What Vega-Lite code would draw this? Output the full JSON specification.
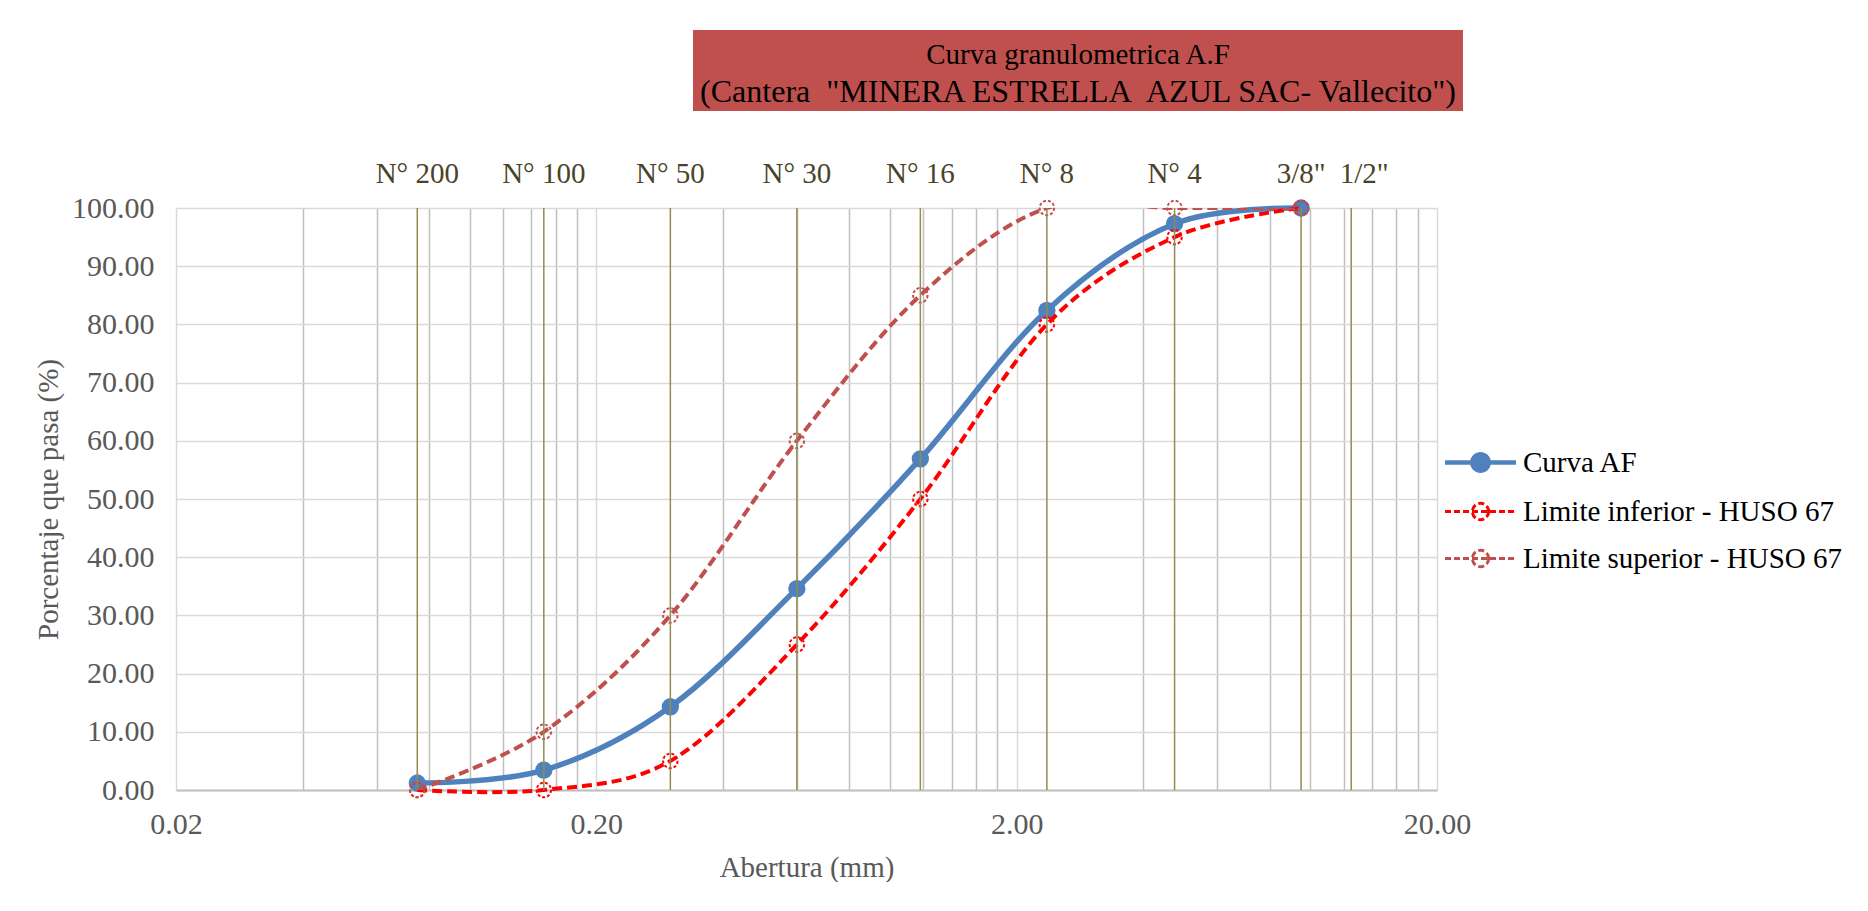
{
  "$schema": "https://vega.github.io/schema/vega-lite/v6.json",
  "padding": {"left": 34, "top": 27, "right": 0, "bottom": 0},
  "background": "white",
  "config": {"view": {"stroke": null}, "font": "Liberation Serif"},
  "datasets": {
    "curves": [
      {"series": "Curva AF", "mm": 0.075, "pct": 1.2},
      {"series": "Curva AF", "mm": 0.15, "pct": 3.4},
      {"series": "Curva AF", "mm": 0.3, "pct": 14.3},
      {"series": "Curva AF", "mm": 0.6, "pct": 34.6},
      {"series": "Curva AF", "mm": 1.18, "pct": 56.9},
      {"series": "Curva AF", "mm": 2.36, "pct": 82.4},
      {"series": "Curva AF", "mm": 4.75, "pct": 97.3},
      {"series": "Curva AF", "mm": 9.5, "pct": 100},
      {"series": "Limite inferior - HUSO 67", "mm": 0.075, "pct": 0},
      {"series": "Limite inferior - HUSO 67", "mm": 0.15, "pct": 0},
      {"series": "Limite inferior - HUSO 67", "mm": 0.3, "pct": 5},
      {"series": "Limite inferior - HUSO 67", "mm": 0.6, "pct": 25},
      {"series": "Limite inferior - HUSO 67", "mm": 1.18, "pct": 50},
      {"series": "Limite inferior - HUSO 67", "mm": 2.36, "pct": 80},
      {"series": "Limite inferior - HUSO 67", "mm": 4.75, "pct": 95},
      {"series": "Limite inferior - HUSO 67", "mm": 9.5, "pct": 100},
      {"series": "Limite superior - HUSO 67", "mm": 0.075, "pct": 0},
      {"series": "Limite superior - HUSO 67", "mm": 0.15, "pct": 10},
      {"series": "Limite superior - HUSO 67", "mm": 0.3, "pct": 30},
      {"series": "Limite superior - HUSO 67", "mm": 0.6, "pct": 60},
      {"series": "Limite superior - HUSO 67", "mm": 1.18, "pct": 85},
      {"series": "Limite superior - HUSO 67", "mm": 2.36, "pct": 100},
      {"series": "Limite superior - HUSO 67", "mm": 4.75, "pct": 100},
      {"series": "Limite superior - HUSO 67", "mm": 9.5, "pct": 100}
    ],
    "sieves": [
      {"label": "N° 200", "mm": 0.075},
      {"label": "N° 100", "mm": 0.15},
      {"label": "N° 50", "mm": 0.3},
      {"label": "N° 30", "mm": 0.6},
      {"label": "N° 16", "mm": 1.18},
      {"label": "N° 8", "mm": 2.36},
      {"label": "N° 4", "mm": 4.75},
      {"label": "3/8\"", "mm": 9.5},
      {"label": "1/2\"", "mm": 12.5}
    ],
    "heading": [
      {"line": 1, "text": "Curva granulometrica A.F"},
      {"line": 2, "text": "(Cantera\u00a0 \"MINERA ESTRELLA\u00a0 AZUL SAC- Vallecito\")"}
    ]
  },
  "spacing": 49,
  "vconcat": [
    {
      "spacing": 513,
      "hconcat": [
        {
          "width": 1, "height": 1,
          "data": {"name": "heading"},
          "mark": {"type": "point", "opacity": 0}
        },
        {
          "width": 770, "height": 81,
          "view": {"fill": "#c0504d", "stroke": null},
          "data": {"name": "heading"},
          "layer": [
            {
              "transform": [{"filter": "datum.line === 1"}],
              "mark": {"type": "text", "font": "Liberation Serif", "fontSize": 29, "color": "#000000", "baseline": "middle", "align": "center", "dy": -16},
              "encoding": {"text": {"field": "text", "type": "nominal"}}
            },
            {
              "transform": [{"filter": "datum.line === 2"}],
              "mark": {"type": "text", "font": "Liberation Serif", "fontSize": 32, "color": "#000000", "baseline": "middle", "align": "center", "dy": 21},
              "encoding": {"text": {"field": "text", "type": "nominal"}}
            }
          ]
        }
      ]
    },
    {
      "width": 1261,
      "height": 582,
      "encoding": {
        "x": {
          "field": "mm", "type": "quantitative",
          "scale": {"type": "log", "domain": [0.02, 20], "nice": false},
          "axis": {
            "title": "Abertura (mm)",
            "values": [0.02, 0.04, 0.06, 0.08, 0.1, 0.12, 0.14, 0.16, 0.18, 0.2, 0.4, 0.6, 0.8, 1, 1.2, 1.4, 1.6, 1.8, 2, 4, 6, 8, 10, 12, 14, 16, 18, 20],
            "labelExpr": "indexof([0.02, 0.2, 2, 20], datum.value) >= 0 ? format(datum.value, '.2f') : ''",
            "grid": true,
            "gridColor": {"condition": {"test": "indexof([0.02, 0.2, 2, 20], datum.value) >= 0", "value": "#d9d9d9"}, "value": "#bfbfbf"},
            "gridWidth": 1.5,
            "ticks": false,
            "domainColor": "#bfbfbf",
            "domainWidth": 2,
            "labelFont": "Liberation Serif", "labelFontSize": 30, "labelColor": "#595959", "labelPadding": 19,
            "labelOverlap": false, "labelFlush": false, "labelBound": false,
            "titleFont": "Liberation Serif", "titleFontSize": 29, "titleFontWeight": "normal", "titleColor": "#595959", "titlePadding": 14
          }
        }
      },
      "layer": [
        {
          "data": {"name": "curves"},
          "transform": [{"filter": "datum.series === 'Curva AF'"}],
          "mark": {"type": "line", "interpolate": "cardinal", "strokeWidth": 5.5},
          "encoding": {
            "y": {
              "field": "pct", "type": "quantitative",
              "scale": {"domain": [0, 100], "nice": false},
              "axis": {
                "title": "Porcentaje que pasa (%)",
                "values": [0, 10, 20, 30, 40, 50, 60, 70, 80, 90, 100],
                "format": ".2f",
                "grid": true, "gridColor": "#d9d9d9", "gridWidth": 1.5,
                "domain": false, "ticks": false,
                "labelFont": "Liberation Serif", "labelFontSize": 30, "labelColor": "#595959", "labelPadding": 22,
                "titleFont": "Liberation Serif", "titleFontSize": 29, "titleFontWeight": "normal", "titleColor": "#595959", "titlePadding": 8
              }
            },
            "color": {
              "field": "series", "type": "nominal",
              "scale": {"domain": ["Curva AF", "Limite inferior - HUSO 67", "Limite superior - HUSO 67"], "range": ["#4f81bd", "#ff0000", "#c0504d"]},
              "legend": {
                "title": null, "orient": "none", "legendX": 1290, "legendY": 418, "direction": "vertical", "padding": 0,
                "symbolType": "M-1,0H1M0.23,0A0.23,0.23,0,1,1,-0.23,0A0.23,0.23,0,1,1,0.23,0Z",
                "symbolSize": 5041,
                "labelFont": "Liberation Serif", "labelFontSize": 29, "labelColor": "#000000", "labelOffset": 28, "rowPadding": 17, "labelLimit": 0,
                "encode": {"symbols": {"update": {
                  "fill": {"signal": "datum.value === 'Curva AF' ? '#4f81bd' : 'transparent'"},
                  "fillOpacity": {"signal": "datum.value === 'Curva AF' ? 1 : 0"},
                  "strokeDash": {"signal": "datum.value === 'Curva AF' ? [1, 0] : [6, 3]"},
                  "strokeWidth": {"signal": "datum.value === 'Curva AF' ? 4.5 : 3"}
                }}}
              }
            }
          }
        },
        {
          "data": {"name": "curves"},
          "transform": [{"filter": "datum.series === 'Curva AF'"}],
          "mark": {"type": "circle", "size": 300, "opacity": 1},
          "encoding": {
            "y": {"field": "pct", "type": "quantitative", "scale": {"domain": [0, 100], "nice": false}},
            "color": {"field": "series", "type": "nominal", "legend": null}
          }
        },
        {
          "data": {"name": "curves"},
          "transform": [{"filter": "datum.series === 'Limite inferior - HUSO 67'"}],
          "mark": {"type": "line", "interpolate": "cardinal", "strokeWidth": 4, "strokeDash": [10, 5]},
          "encoding": {
            "y": {"field": "pct", "type": "quantitative", "scale": {"domain": [0, 100], "nice": false}},
            "color": {"field": "series", "type": "nominal", "legend": null}
          }
        },
        {
          "data": {"name": "curves"},
          "transform": [{"filter": "datum.series === 'Limite superior - HUSO 67'"}],
          "mark": {"type": "line", "interpolate": "cardinal", "strokeWidth": 4, "strokeDash": [10, 5], "clip": true},
          "encoding": {
            "y": {"field": "pct", "type": "quantitative", "scale": {"domain": [0, 100], "nice": false}},
            "color": {"field": "series", "type": "nominal", "legend": null}
          }
        },
        {
          "data": {"name": "curves"},
          "transform": [{"filter": "datum.series !== 'Curva AF'"}],
          "mark": {"type": "point", "shape": "circle", "filled": false, "size": 210, "strokeWidth": 2, "strokeDash": [3, 2], "opacity": 1},
          "encoding": {
            "y": {"field": "pct", "type": "quantitative", "scale": {"domain": [0, 100], "nice": false}},
            "color": {"field": "series", "type": "nominal", "legend": null}
          }
        },
        {
          "data": {"name": "sieves"},
          "mark": {"type": "rule", "color": "#948a54", "strokeWidth": 1.5},
          "encoding": {}
        },
        {
          "data": {"name": "sieves"},
          "transform": [{"filter": "datum.label !== '1/2\"'"}],
          "mark": {"type": "text", "font": "Liberation Serif", "fontSize": 29, "color": "#494429", "baseline": "alphabetic", "dy": -25},
          "encoding": {
            "text": {"field": "label", "type": "nominal"},
            "y": {"datum": 100, "type": "quantitative", "scale": {"domain": [0, 100], "nice": false}}
          }
        },
        {
          "data": {"name": "sieves"},
          "transform": [{"filter": "datum.label === '1/2\"'"}],
          "mark": {"type": "text", "font": "Liberation Serif", "fontSize": 29, "color": "#494429", "baseline": "alphabetic", "dy": -25, "dx": 13},
          "encoding": {
            "text": {"field": "label", "type": "nominal"},
            "y": {"datum": 100, "type": "quantitative", "scale": {"domain": [0, 100], "nice": false}}
          }
        }
      ]
    }
  ]
}
